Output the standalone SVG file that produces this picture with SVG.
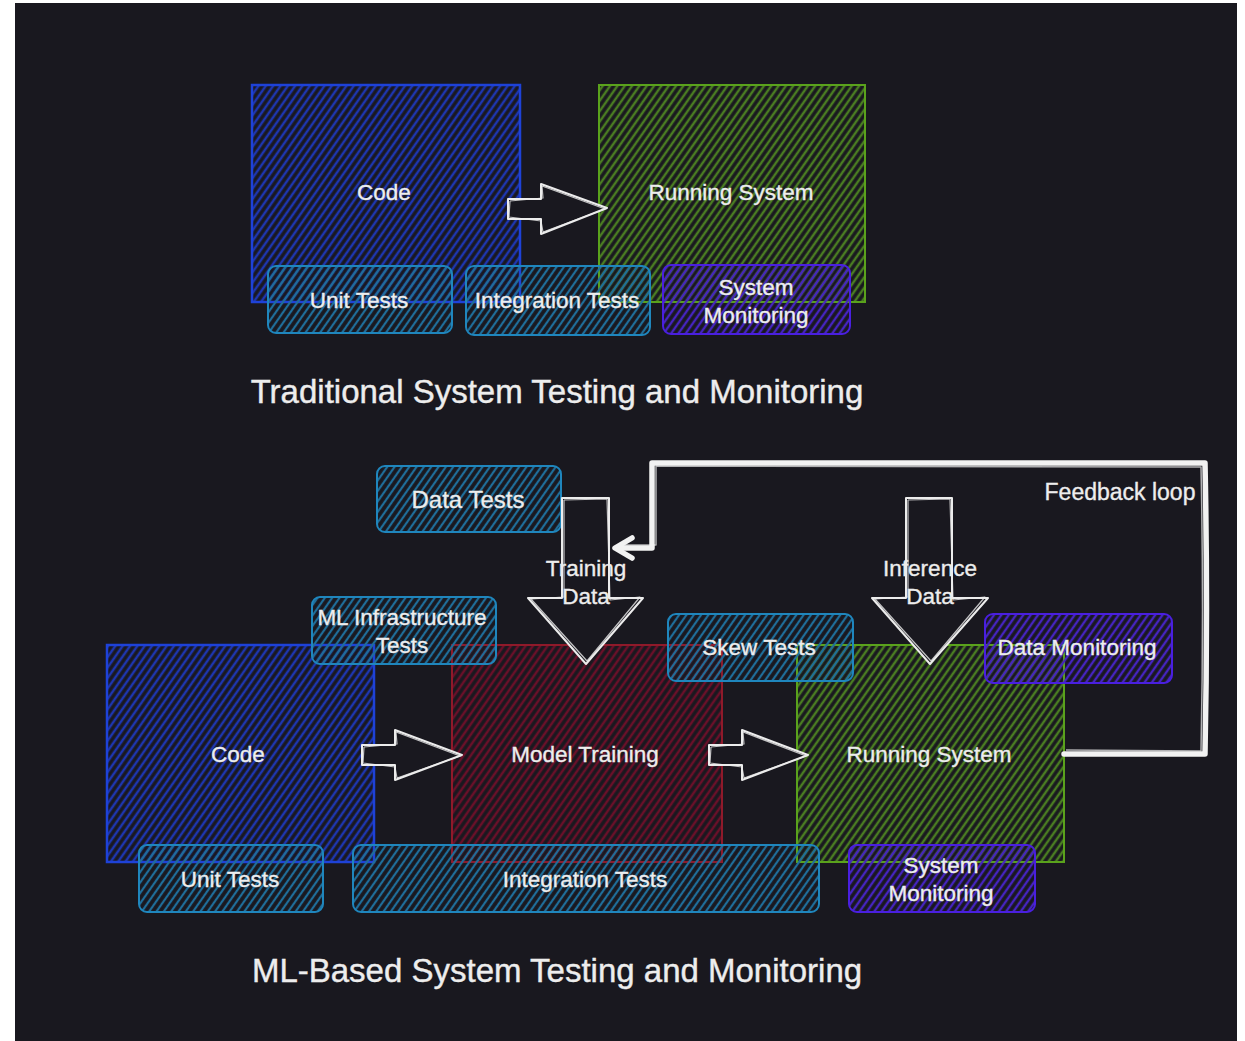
<svg xmlns="http://www.w3.org/2000/svg" width="1245" height="1041" viewBox="0 0 1245 1041">
  <style>
    .bg { fill: #19181f; }
    .lbl { font-family: "Liberation Sans", Arial, sans-serif; font-size: 22.5px; fill: #ededed; text-anchor: middle; stroke: #ededed; stroke-width: 0.35; }
    .title { font-family: "Liberation Sans", Arial, sans-serif; font-size: 33px; fill: #ededed; text-anchor: middle; stroke: #ededed; stroke-width: 0.4; }
    .blk { fill: #19181f; stroke: #ececec; stroke-width: 2; stroke-linejoin: round; }
    .blk2 { fill: none; stroke: #ececec; stroke-width: 1.2; stroke-linejoin: round; opacity: 0.8; }
    .loop { fill: none; stroke: #f2f2f2; stroke-width: 5.5; stroke-linejoin: round; stroke-linecap: round; }
    .loop2 { fill: none; stroke: #f2f2f2; stroke-width: 1.5; stroke-linejoin: round; opacity: 0.7; }
  </style>
  <defs>
    <pattern id="hBlue" width="6" height="10" patternUnits="userSpaceOnUse" patternTransform="rotate(35)">
      <line x1="3" y1="0" x2="3" y2="10" stroke="#1e36b0" stroke-width="2.5"/>
    </pattern>
    <pattern id="hGreen" width="6" height="10" patternUnits="userSpaceOnUse" patternTransform="rotate(35)">
      <line x1="3" y1="0" x2="3" y2="10" stroke="#4a7d22" stroke-width="2.5"/>
    </pattern>
    <pattern id="hRed" width="6" height="10" patternUnits="userSpaceOnUse" patternTransform="rotate(35)">
      <line x1="3" y1="0" x2="3" y2="10" stroke="#6a1029" stroke-width="2.5"/>
    </pattern>
    <pattern id="hCyan" width="6" height="10" patternUnits="userSpaceOnUse" patternTransform="rotate(35)">
      <line x1="3" y1="0" x2="3" y2="10" stroke="#1f6e9a" stroke-width="2.2"/>
    </pattern>
    <pattern id="hPurple" width="6" height="10" patternUnits="userSpaceOnUse" patternTransform="rotate(35)">
      <line x1="3" y1="0" x2="3" y2="10" stroke="#4624c0" stroke-width="2.4"/>
    </pattern>
  </defs>

  <!-- page -->
  <rect x="0" y="0" width="1245" height="1041" fill="#ffffff"/>
  <rect class="bg" x="15" y="3" width="1222" height="1038"/>

  <!-- ===== Traditional system ===== -->
  <g id="t-code">
    <rect x="252" y="85" width="268" height="217" fill="url(#hBlue)" stroke="#1e42d8" stroke-width="2.5"/>
    <text class="lbl" x="384" y="200">Code</text>
  </g>
  <g id="t-running">
    <rect x="599" y="85" width="266" height="217" fill="url(#hGreen)" stroke="#5aa21c" stroke-width="2"/>
    <text class="lbl" x="731" y="200">Running System</text>
  </g>
  <g id="t-unit">
    <rect x="268" y="266" width="184" height="67" rx="8" fill="url(#hCyan)" stroke="#1f86bd" stroke-width="2"/>
    <text class="lbl" x="359" y="308">Unit Tests</text>
  </g>
  <g id="t-integration">
    <rect x="466" y="266" width="184" height="69" rx="8" fill="url(#hCyan)" stroke="#1f86bd" stroke-width="2"/>
    <text class="lbl" x="557" y="308">Integration Tests</text>
  </g>
  <g id="t-monitoring">
    <rect x="663" y="265" width="187" height="69" rx="8" fill="url(#hPurple)" stroke="#4a1fe0" stroke-width="2"/>
    <text class="lbl" x="756" y="295">System</text>
    <text class="lbl" x="756" y="323">Monitoring</text>
  </g>
  <g id="t-title">
    <text class="title" x="557" y="403">Traditional System Testing and Monitoring</text>
  </g>

  <!-- ===== ML-based system ===== -->
  <g id="m-code">
    <rect x="107" y="645" width="267" height="217" fill="url(#hBlue)" stroke="#1e42d8" stroke-width="2.5"/>
    <text class="lbl" x="238" y="762">Code</text>
  </g>
  <g id="m-training">
    <rect x="452" y="645" width="270" height="217" fill="url(#hRed)" stroke="#8f1a2a" stroke-width="2"/>
    <text class="lbl" x="585" y="762">Model Training</text>
  </g>
  <g id="m-running">
    <rect x="797" y="645" width="267" height="217" fill="url(#hGreen)" stroke="#5aa21c" stroke-width="2"/>
    <text class="lbl" x="929" y="762">Running System</text>
  </g>
  <g id="m-datatests">
    <rect x="377" y="466" width="184" height="66" rx="8" fill="url(#hCyan)" stroke="#1f86bd" stroke-width="2"/>
    <text class="lbl" x="468" y="508" style="font-size:24px">Data Tests</text>
  </g>
  <g id="m-infra">
    <rect x="312" y="597" width="184" height="67" rx="8" fill="url(#hCyan)" stroke="#1f86bd" stroke-width="2"/>
    <text class="lbl" x="402" y="625">ML Infrastructure</text>
    <text class="lbl" x="402" y="653">Tests</text>
  </g>
  <g id="m-skew">
    <rect x="668" y="614" width="185" height="67" rx="8" fill="url(#hCyan)" stroke="#1f86bd" stroke-width="2"/>
    <text class="lbl" x="759" y="655">Skew Tests</text>
  </g>
  <g id="m-datamon">
    <rect x="985" y="614" width="187" height="69" rx="8" fill="url(#hPurple)" stroke="#4a1fe0" stroke-width="2"/>
    <text class="lbl" x="1077" y="655">Data Monitoring</text>
  </g>
  <g id="m-unit">
    <rect x="139" y="845" width="184" height="67" rx="8" fill="url(#hCyan)" stroke="#1f86bd" stroke-width="2"/>
    <text class="lbl" x="230" y="887">Unit Tests</text>
  </g>
  <g id="m-integration">
    <rect x="353" y="845" width="466" height="67" rx="8" fill="url(#hCyan)" stroke="#1f86bd" stroke-width="2"/>
    <text class="lbl" x="585" y="887">Integration Tests</text>
  </g>
  <g id="m-monitoring">
    <rect x="849" y="845" width="186" height="67" rx="8" fill="url(#hPurple)" stroke="#4a1fe0" stroke-width="2"/>
    <text class="lbl" x="941" y="873">System</text>
    <text class="lbl" x="941" y="901">Monitoring</text>
  </g>
  <g id="m-title">
    <text class="title" x="557" y="982">ML-Based System Testing and Monitoring</text>
  </g>

  <!-- ===== connectors ===== -->
  <g id="connectors">
    <!-- block arrows -->
    <polygon class="blk" points="508,199 541,199 541,184 607,208 541,234 541,219 508,219"/>
    <polyline class="blk2" points="510,201 543,198 542,186 605,209 543,232 541,221 509,217 510,201"/>

    <polygon class="blk" points="362,745 395,745 395,730 462,755 395,780 395,765 362,765"/>
    <polyline class="blk2" points="364,747 397,744 396,732 460,756 397,778 395,767 363,763 364,747"/>

    <polygon class="blk" points="709,745 742,745 742,730 808,755 742,780 742,765 709,765"/>
    <polyline class="blk2" points="711,747 744,744 743,732 806,756 744,778 742,767 710,763 711,747"/>

    <polygon class="blk" points="562,498 609,498 609,598 643,598 586,664 528,598 562,598"/>
    <polyline class="blk2" points="564,500 607,499 610,600 640,597 587,661 531,599 564,597 564,500"/>

    <polygon class="blk" points="906,498 952,498 952,598 988,598 930,664 872,598 906,598"/>
    <polyline class="blk2" points="908,500 950,499 953,600 985,597 931,661 875,599 908,597 908,500"/>

    <!-- feedback loop -->
    <path class="loop" d="M1064,754 L1205,754 Q1208,610 1205,463 L652,463 L652,548 L617,548"/>
    <path class="loop2" d="M1066,750 L1201,751 Q1204,610 1201,467 L656,466 L656,545 L619,545"/>
    <path class="loop" d="M632,538 L615,548 L632,558"/>

    <!-- connector labels -->
    <text class="lbl" x="586" y="576">Training</text>
    <text class="lbl" x="586" y="604">Data</text>
    <text class="lbl" x="930" y="576">Inference</text>
    <text class="lbl" x="930" y="604">Data</text>
    <text class="lbl" x="1120" y="500" style="font-size:23px">Feedback loop</text>
  </g>
</svg>
